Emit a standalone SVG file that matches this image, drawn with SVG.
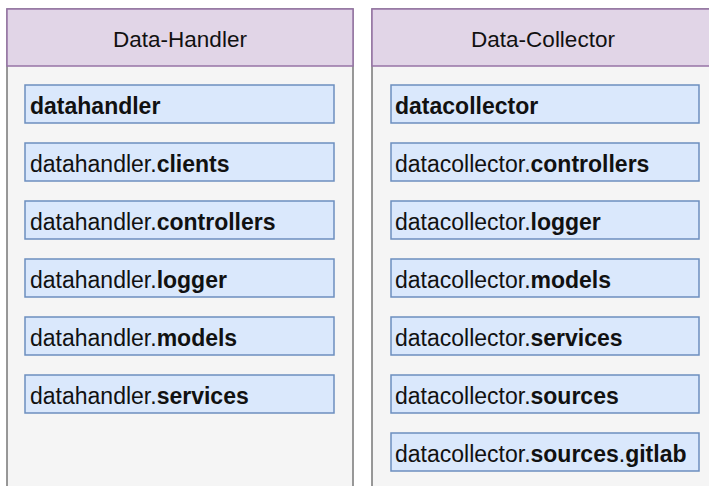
<svg xmlns="http://www.w3.org/2000/svg" width="709" height="486" viewBox="0 0 709 486">
  <style>
    text { font-family: "Liberation Sans", Arial, sans-serif; font-size: 22.5px; fill: #111111; }
    .title { text-anchor: middle; }
    .pkg text { font-size: 23px; }
    .body { fill: #f5f5f5; stroke: #777777; stroke-width: 1.5; }
    .head { fill: #e1d5e7; stroke: #9673a6; stroke-width: 1.5; }
    .pkg rect { fill: #dae8fc; stroke: #6c8ebf; stroke-width: 1.5; }
    .b { font-weight: bold; }
  </style>

  <rect width="709" height="486" fill="#ffffff"/>

  <!-- Data-Handler service lane -->
  <g id="data-handler">
    <rect class="body" x="7" y="9" width="346" height="490"/>
    <rect class="head" x="7" y="9" width="346" height="57"/>
    <text class="title" x="180" y="46.5">Data-Handler</text>
  </g>

  <!-- Data-Collector service lane -->
  <g id="data-collector">
    <rect class="body" x="372" y="9" width="345" height="490"/>
    <rect class="head" x="372" y="9" width="345" height="57"/>
    <text class="title" x="543" y="46.5">Data-Collector</text>
  </g>

  <!-- Data-Handler packages -->
  <g id="pkg-datahandler" class="pkg">
    <rect x="25" y="85" width="309" height="38"/>
    <text x="30" y="113.5"><tspan class="b">datahandler</tspan></text>
  </g>
  <g id="pkg-datahandler-clients" class="pkg">
    <rect x="25" y="143" width="309" height="38"/>
    <text x="30" y="171.5">datahandler.<tspan class="b">clients</tspan></text>
  </g>
  <g id="pkg-datahandler-controllers" class="pkg">
    <rect x="25" y="201" width="309" height="38"/>
    <text x="30" y="229.5">datahandler.<tspan class="b">controllers</tspan></text>
  </g>
  <g id="pkg-datahandler-logger" class="pkg">
    <rect x="25" y="259" width="309" height="38"/>
    <text x="30" y="287.5">datahandler.<tspan class="b">logger</tspan></text>
  </g>
  <g id="pkg-datahandler-models" class="pkg">
    <rect x="25" y="317" width="309" height="38"/>
    <text x="30" y="345.5">datahandler.<tspan class="b">models</tspan></text>
  </g>
  <g id="pkg-datahandler-services" class="pkg">
    <rect x="25" y="375" width="309" height="38"/>
    <text x="30" y="403.5">datahandler.<tspan class="b">services</tspan></text>
  </g>

  <!-- Data-Collector packages -->
  <g id="pkg-datacollector" class="pkg">
    <rect x="391" y="85" width="308" height="38"/>
    <text x="395" y="113.5"><tspan class="b">datacollector</tspan></text>
  </g>
  <g id="pkg-datacollector-controllers" class="pkg">
    <rect x="391" y="143" width="308" height="38"/>
    <text x="395" y="171.5">datacollector.<tspan class="b">controllers</tspan></text>
  </g>
  <g id="pkg-datacollector-logger" class="pkg">
    <rect x="391" y="201" width="308" height="38"/>
    <text x="395" y="229.5">datacollector.<tspan class="b">logger</tspan></text>
  </g>
  <g id="pkg-datacollector-models" class="pkg">
    <rect x="391" y="259" width="308" height="38"/>
    <text x="395" y="287.5">datacollector.<tspan class="b">models</tspan></text>
  </g>
  <g id="pkg-datacollector-services" class="pkg">
    <rect x="391" y="317" width="308" height="38"/>
    <text x="395" y="345.5">datacollector.<tspan class="b">services</tspan></text>
  </g>
  <g id="pkg-datacollector-sources" class="pkg">
    <rect x="391" y="375" width="308" height="38"/>
    <text x="395" y="403.5">datacollector.<tspan class="b">sources</tspan></text>
  </g>
  <g id="pkg-datacollector-sources-gitlab" class="pkg">
    <rect x="391" y="433" width="308" height="38"/>
    <text x="395" y="461.5">datacollector.<tspan class="b">sources</tspan>.<tspan class="b">gitlab</tspan></text>
  </g>

  <g id="connectors"/>
</svg>
